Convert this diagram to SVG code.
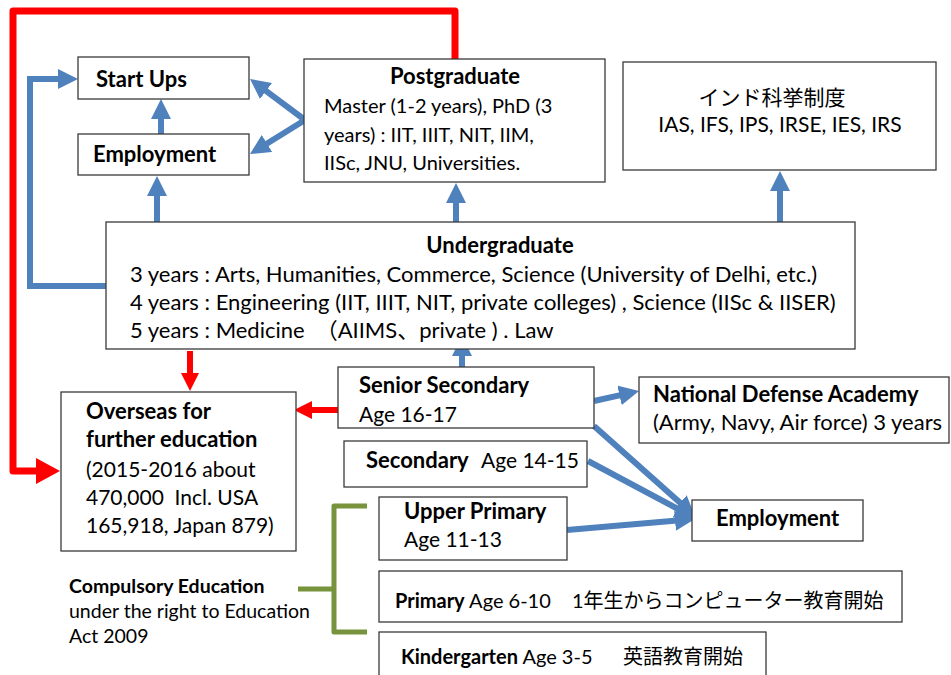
<svg xmlns="http://www.w3.org/2000/svg" width="951" height="675" viewBox="0 0 951 675">
  <style>
    .box { fill: #ffffff; stroke: #3a3a3a; stroke-width: 1.3; }
    text { font-family: Lato, "Noto Sans CJK JP", sans-serif; font-size: 20px; fill: #000; }
    .b { font-weight: bold; }
    .t21 { font-size: 21px; }
    .t22 { font-size: 22px; }
    .note { font-size: 19.5px; }
    .jp { font-family: "Noto Sans CJK JP", sans-serif; }
    .blue { fill: none; stroke: #4F81BD; stroke-width: 6; }
    .red { fill: none; stroke: #FF0000; stroke-width: 6; }
    .redbig { fill: none; stroke: #FF0000; stroke-width: 7; stroke-linejoin: round; }
    .green { fill: none; stroke: #77933C; stroke-width: 5; stroke-linejoin: round; }
  </style>
  <defs>
    <marker id="ab" markerUnits="userSpaceOnUse" markerWidth="20" markerHeight="20" viewBox="0 0 20 20" refX="8" refY="10" orient="auto">
      <path d="M0,0 L20,10 L0,20 z" fill="#4F81BD"/>
    </marker>
    <marker id="arb" markerUnits="userSpaceOnUse" markerWidth="24" markerHeight="26" viewBox="0 0 24 26" refX="10" refY="13" orient="auto">
      <path d="M0,0 L24,13 L0,26 z" fill="#FF0000"/>
    </marker>
    <marker id="ars" markerUnits="userSpaceOnUse" markerWidth="18" markerHeight="18" viewBox="0 0 18 18" refX="8" refY="9" orient="auto">
      <path d="M0,0 L18,9 L0,18 z" fill="#FF0000"/>
    </marker>
  </defs>

  <rect width="951" height="675" fill="#ffffff"/>

  <!-- connectors -->
  <g id="connectors">
    <path class="redbig" d="M455,59 V11 H13 V471 H46" marker-end="url(#arb)"/>
    <path class="red" d="M190,351 V381" marker-end="url(#ars)"/>
    <path class="red" d="M338,410 H304" marker-end="url(#ars)"/>

    <path class="blue" d="M106,286 H30 V79 H66" marker-end="url(#ab)"/>
    <path class="blue" d="M161,134 V111" marker-end="url(#ab)"/>
    <path class="blue" d="M157,222 V188" marker-end="url(#ab)"/>
    <path class="blue" d="M305,120 L259.6,86.2" marker-end="url(#ab)"/>
    <path class="blue" d="M305,120 L260.2,147.7" marker-end="url(#ab)"/>
    <path class="blue" d="M456,222 V195" marker-end="url(#ab)"/>
    <path class="blue" d="M780,222 V183" marker-end="url(#ab)"/>
    <path class="blue" d="M462,367 V348" marker-end="url(#ab)"/>
    <path class="blue" d="M594,401 L627.3,393.6" marker-end="url(#ab)"/>
    <path class="blue" d="M594,426 L686,508" marker-end="url(#ab)"/>
    <path class="blue" d="M588,461 L684.4,512.4" marker-end="url(#ab)"/>
    <path class="blue" d="M567,530 L683,520" marker-end="url(#ab)"/>

    <path class="green" d="M367,506 H334 V632 H367 M298,589 H334"/>
  </g>

  <g id="startups">
    <rect class="box" x="78" y="57" width="171" height="42"/>
    <text class="b t22" x="96" y="87">Start Ups</text>
  </g>

  <g id="employment-top">
    <rect class="box" x="78" y="134" width="171" height="41"/>
    <text class="b t22" x="93" y="162">Employment</text>
  </g>

  <g id="postgraduate">
    <rect class="box" x="304" y="59" width="301" height="123"/>
    <text class="b t22" x="455" y="84" text-anchor="middle">Postgraduate</text>
    <text x="324" y="113">Master (1-2 years), PhD (3</text>
    <text x="324" y="142">years) : IIT, IIIT, NIT, IIM,</text>
    <text x="324" y="170">IISc, JNU, Universities.</text>
  </g>

  <g id="civil-services">
    <rect class="box" x="623" y="62" width="313" height="108"/>
    <text class="jp" x="772" y="105" text-anchor="middle" style="font-size:21px">インド科挙制度</text>
    <text class="t21" x="780" y="132" text-anchor="middle">IAS, IFS, IPS, IRSE, IES, IRS</text>
  </g>

  <g id="undergraduate">
    <rect class="box" x="106" y="222" width="749" height="127"/>
    <text class="b t22" x="500" y="253" text-anchor="middle">Undergraduate</text>
    <text class="t22" x="130" y="282">3 years : Arts, Humanities, Commerce, Science (University of Delhi, etc.)</text>
    <text class="t22" x="130" y="310">4 years : Engineering (IIT, IIIT, NIT, private colleges) , Science (IISc &amp; IISER)</text>
    <text class="t22" x="130" y="338">5 years : Medicine　（AIIMS、private ) . Law</text>
  </g>

  <g id="overseas">
    <rect class="box" x="61" y="392" width="235" height="159"/>
    <text class="b t22" x="86" y="419">Overseas for</text>
    <text class="b t22" x="86" y="447">further education</text>
    <text class="t21" x="86" y="477">(2015-2016 about</text>
    <text class="t21" x="86" y="505" xml:space="preserve">470,000  Incl. USA</text>
    <text class="t21" x="86" y="533">165,918, Japan 879)</text>
  </g>

  <g id="senior-secondary">
    <rect class="box" x="338" y="367" width="256" height="61"/>
    <text class="b t22" x="359" y="393">Senior Secondary</text>
    <text class="t21" x="359" y="422">Age 16-17</text>
  </g>

  <g id="nda">
    <rect class="box" x="639" y="377" width="310" height="66"/>
    <text class="b t22" x="653" y="402">National Defense Academy</text>
    <text class="t22" x="653" y="430">(Army, Navy, Air force) 3 years</text>
  </g>

  <g id="secondary">
    <rect class="box" x="344" y="441" width="243" height="46"/>
    <text x="366" y="468"><tspan class="b t22">Secondary</tspan><tspan class="t21" x="481">Age 14-15</tspan></text>
  </g>

  <g id="employment-bottom">
    <rect class="box" x="692" y="500" width="171" height="41"/>
    <text class="b t22" x="716" y="526">Employment</text>
  </g>

  <g id="upper-primary">
    <rect class="box" x="379" y="497" width="188" height="63"/>
    <text class="b t22" x="404" y="519">Upper Primary</text>
    <text class="t21" x="404" y="547">Age 11-13</text>
  </g>

  <g id="primary">
    <rect class="box" x="379" y="571" width="523" height="51"/>
    <text x="395" y="608"><tspan class="b">Primary</tspan> Age 6-10<tspan x="572">1年生からコンピューター教育開始</tspan></text>
  </g>

  <g id="kindergarten">
    <rect class="box" x="379" y="632" width="387" height="60"/>
    <text x="401" y="664"><tspan class="b">Kindergarten</tspan> Age 3-5<tspan x="623">英語教育開始</tspan></text>
  </g>

  <g id="compulsory-note">
    <text class="b note" x="69" y="593">Compulsory Education</text>
    <text class="note" x="69" y="618">under the right to Education</text>
    <text class="note" x="69" y="643">Act 2009</text>
  </g>
</svg>
